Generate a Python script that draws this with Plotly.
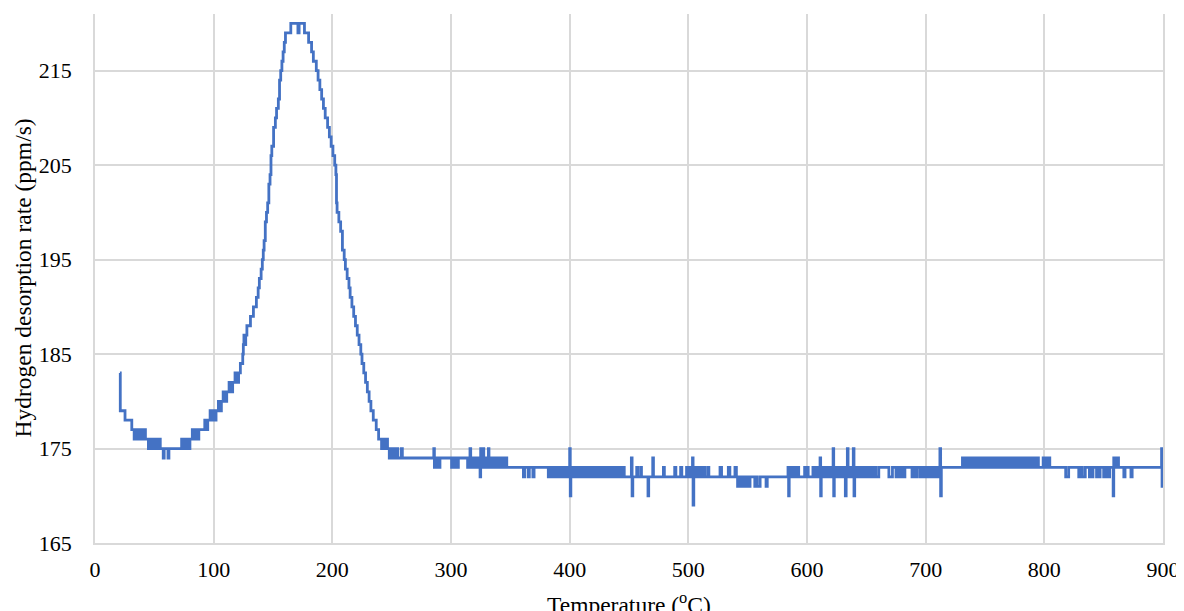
import plotly.graph_objects as go

# (temperature °C, hydrogen desorption rate ppm/s) step points
warmup_steps = [
    (21, 183), (21.3, 179), (25.3, 178), (31, 177), (33, 176), (34, 177), (35, 176), (36.5, 177),
    (37.5, 176), (39, 177), (40, 176), (41.5, 177), (42.5, 176), (45, 175), (46, 176), (47, 175),
    (48, 176), (49.5, 175), (51, 176), (52, 175), (53.5, 176), (55, 175), (57.5, 174), (58.3, 175),
    (61.5, 174), (62.3, 175), (73, 176), (74, 175), (75.5, 176), (76.5, 175), (78, 176), (79, 175),
    (80, 176), (82, 177), (83, 176), (84.5, 177), (86, 176), (87.5, 177), (92.5, 178), (93.5, 177),
    (95, 178), (97, 179), (98, 178), (99.5, 179),
]

peak_steps = [
    (101, 178), (102, 179), (104, 180), (105, 179), (106.5, 180), (108, 181), (109, 180), (111, 181),
    (113, 182), (114, 181), (116, 182), (118, 183), (119, 182), (121, 183), (122.5, 184), (124.5, 185),
    (125, 186), (125.5, 187), (126, 186), (127, 187), (128, 188), (131, 189), (133.5, 190), (136, 191),
    (137.5, 192), (138.5, 193), (140, 194), (141, 195), (141.8, 196), (142.5, 197), (143.5, 199),
    (144.5, 200), (145.5, 201), (146.5, 203), (147.5, 204), (148.3, 206), (149, 207), (150.5, 209),
    (152, 210), (153, 211), (154.5, 212), (155.5, 214), (156.5, 215), (157.5, 216), (158.5, 217),
    (159.5, 218), (160.5, 219), (165, 220), (171, 219), (172, 220), (176.5, 219), (180, 218),
    (182.5, 217), (184, 216), (186.5, 215), (188, 214), (189.5, 213), (191, 212), (192.5, 211),
    (194, 210), (196, 209), (197.5, 208), (199, 207), (200.5, 206), (202, 205), (203, 204),
    (203.5, 201), (204, 200), (205.5, 199), (207, 198), (208.5, 196), (210, 195), (211, 194),
    (212.5, 193), (214, 192), (215, 191), (216.5, 190), (218, 189), (219.5, 188), (221, 187),
    (222.5, 186), (224, 185), (225, 184), (226.5, 183), (228, 182), (229.5, 181), (231, 180),
    (232.5, 179), (234.5, 178), (237, 177), (239, 176), (241.5, 175), (243, 176), (244, 175),
    (245.5, 176), (246.5, 175), (248, 174), (249, 175), (250, 174), (251, 175), (252.5, 174),
    (254, 175), (255, 174), (258, 175), (259, 174),
]

plateau_steps = [
    (285.5, 175), (286, 173), (287, 174), (288, 173), (289, 174), (290, 173), (290.7, 174),
    (300.5, 173), (301.5, 174), (302.5, 173), (303.5, 174), (305, 173), (306.2, 174),
    (314, 173), (315, 174), (316, 175), (316.6, 173), (317.5, 174), (318.5, 173), (319.5, 174),
    (320.5, 173), (321.5, 174), (322.5, 173), (323.5, 174), (324.5, 172), (325, 175), (326, 173),
    (327, 175), (327.6, 174), (328.5, 173), (329.5, 174), (330.5, 173), (331.5, 175), (332, 174),
    (333, 173), (334, 174), (335, 173), (336, 174), (337, 173), (338, 174), (339, 173), (340, 174),
    (341, 173), (342, 174), (343, 173), (344, 174), (345, 173), (346, 174), (347, 173),
    (361, 172), (362, 173), (365, 172), (366, 173), (369, 172), (370, 173),
    (382, 172), (383, 173), (384, 172), (385, 173), (386, 172), (387, 173), (388, 172), (389, 173),
    (390, 172), (391, 173), (392, 172), (393, 173), (394, 172), (395, 173), (396, 172), (397, 173),
    (398, 172), (399, 173), (400, 175), (400.5, 170), (401, 172), (402, 173), (403, 172), (404, 173),
    (405, 172), (406, 173), (407, 172), (408, 173), (409, 172), (410, 173), (411, 172),
]

mid_steps = [
    (412.5, 173), (413.5, 172), (415, 173), (416, 172), (417.5, 173), (418.5, 172), (420, 173),
    (421, 172), (422.5, 173), (423.5, 172), (425, 173), (426, 172), (427.5, 173), (428.5, 172),
    (430, 173), (431, 172), (432.5, 173), (433.5, 172), (435, 173), (436, 172), (437.5, 173),
    (438.5, 172), (440, 173), (441, 172), (442.5, 173), (443.5, 172), (445, 173), (446, 172),
    (452, 174), (452.6, 170), (453.2, 172), (456.5, 173), (457.5, 172), (460, 173), (460.5, 172),
    (466, 170), (466.6, 172), (470, 174), (470.6, 172), (479, 173), (479.8, 172), (488.5, 173),
    (489.5, 172), (493.5, 173), (494.5, 172), (498.5, 173), (499.5, 172), (501, 173), (502, 172),
    (503.5, 174), (504, 169), (504.6, 172), (506, 173), (507, 172), (508.5, 173), (509.5, 172),
    (511, 173), (512, 172), (513, 173), (514, 172), (516.5, 173), (517.3, 172), (526.7, 173),
    (528, 172), (533.7, 173), (535, 172), (539.3, 173), (540.5, 172), (541.5, 171), (542.5, 172),
    (543.5, 171), (545, 172), (546, 171), (547, 172), (548, 171), (549, 172), (550.5, 171),
    (552, 172), (556, 171), (557, 172), (558, 171), (560.5, 172), (565.5, 171), (566.5, 172),
    (584, 173), (584.5, 170), (585, 173), (586, 172), (587, 173), (588, 172), (590, 173),
    (591, 172), (592, 173), (593, 172), (598, 173), (599, 172), (600, 173), (601, 172),
    (605, 173), (606, 172), (607, 173), (608, 172), (609, 173), (610, 172),
]

late_steps = [
    (611, 174), (611.5, 170), (612, 173), (613, 172), (614, 173), (615, 172), (616, 173), (617, 172),
    (618, 173), (619, 172), (620, 173), (621, 172), (622, 175), (622.5, 170), (623, 173), (624, 172),
    (625, 173), (626, 172), (627, 173), (628, 172), (629, 173), (630, 172), (631, 173), (632.3, 170),
    (633, 173), (634, 175), (634.6, 172), (635.5, 173), (636.5, 172), (637.5, 173), (639, 175),
    (639.6, 170), (640.2, 173), (641, 172), (642, 173), (643, 172), (644, 173), (645, 172),
    (646, 173), (647, 172), (648, 173), (649, 172), (650, 173), (651, 172), (652, 173), (653, 172),
    (654, 173), (655, 172), (656, 173), (658, 172), (660.5, 173), (669, 172), (672, 173),
    (675, 172), (676, 173), (677, 172), (678, 173), (679, 172), (680, 173), (681, 172),
    (682.5, 173), (688.5, 172), (689.5, 173), (691, 172), (693, 173), (695.5, 172), (696.5, 173),
    (697.5, 172), (698.5, 173), (699.5, 172), (700.5, 173), (701.5, 172), (702.5, 173),
    (703.5, 172), (704.5, 173), (705.5, 172), (706.5, 173), (707.5, 172), (708.5, 173),
    (709.5, 172), (710.5, 173), (712, 175), (712.6, 170), (713.2, 173),
    (731, 174), (732, 173), (733, 174), (734, 173), (735, 174), (736, 173), (737, 174), (738, 173),
    (739, 174), (740, 173), (741, 174), (742, 173), (743, 174), (744, 173), (745, 174), (746, 173),
    (747, 174), (748, 173), (749, 174), (750, 173), (751, 174), (752, 173), (753, 174), (754, 173),
    (755, 174), (756, 173), (757, 174), (758, 173), (759, 174), (760, 173), (761, 174), (762, 173),
    (763, 174), (764, 173), (765, 174), (766, 173), (767, 174), (768, 173), (769, 174), (770, 173),
    (771, 174), (772, 173), (773, 174), (774, 173), (775, 174), (776, 173), (777, 174), (778, 173),
    (779, 174), (780, 173), (781, 174), (782, 173), (783, 174), (784, 173), (785, 174), (786, 173),
    (787, 174), (788, 173), (789, 174), (790, 173), (791, 174), (792, 173), (793, 174), (795, 173),
    (799, 174), (800, 173), (801, 174), (802, 173), (803, 174), (804.6, 173),
    (818, 172), (820.5, 173), (829, 172), (830.5, 173), (832, 172), (834.5, 173), (838, 172),
    (839, 173), (840, 172), (841, 173), (844, 172), (845, 173), (846, 172), (847, 173),
    (850, 172), (851, 173), (853, 172), (855, 173), (858, 170), (858.5, 174), (859, 173),
    (860, 174), (861, 173), (862, 174), (862.5, 173), (867, 172), (868, 173), (873, 172),
    (874, 173), (898.8, 175), (899.2, 171), (899.6, 175), (900, 173),
]

x_ticks = [0, 100, 200, 300, 400, 500, 600, 700, 800, 900]
y_ticks = [165, 175, 185, 195, 205, 215]
x_title = "Temperature (<sup>o</sup>C)"
y_title = "Hydrogen desorption rate (ppm/s)"

steps = warmup_steps + peak_steps + plateau_steps + mid_steps + late_steps
temperature = [p[0] for p in steps]
rate = [p[1] for p in steps]

FONT = "Liberation Serif, Times New Roman, serif"
GRID = "#D9D9D9"

# page body has an 8px default margin; figure is sized to fill the 1184x611 window exactly
OFF = 8
W, H = 1184 - OFF, 611 - OFF
L, R, T, B = 95 - OFF, 21, 14 - OFF, 68
plot_w, plot_h = W - L - R, H - T - B

fig = go.Figure()
fig.add_trace(go.Scatter(
    x=temperature, y=rate, mode="lines",
    line=dict(color="#4472C4", width=2.8, shape="hv"),
    showlegend=False, hoverinfo="x+y",
))

fig.update_layout(
    width=W, height=H,
    margin=dict(l=L, r=R, t=T, b=B, autoexpand=False),
    paper_bgcolor="white", plot_bgcolor="white",
    font=dict(family=FONT, size=22, color="#000000"),
    showlegend=False,
)
fig.update_xaxes(
    range=[0, 900], tickvals=x_ticks, ticktext=[str(v) for v in x_ticks],
    showgrid=True, gridcolor=GRID, gridwidth=1.5,
    showline=True, linecolor=GRID, linewidth=1.5,
    zeroline=False, ticks="", ticklabelstandoff=6,
    tickfont=dict(family=FONT, size=22, color="#000000"),
)
fig.update_yaxes(
    range=[165, 221], tickvals=y_ticks, ticktext=[str(v) for v in y_ticks],
    showgrid=True, gridcolor=GRID, gridwidth=1.5,
    showline=True, linecolor=GRID, linewidth=1.5, mirror=True,
    zeroline=False, ticks="", ticklabelstandoff=17,
    tickfont=dict(family=FONT, size=22, color="#000000"),
)
# axis titles placed in page pixels (converted to paper coordinates)
fig.add_annotation(
    text=x_title, xref="paper", yref="paper",
    x=0.5, y=-(603 - 543) / plot_h,
    xanchor="center", yanchor="middle", showarrow=False,
    font=dict(family=FONT, size=23.5, color="#000000"),
)
fig.add_annotation(
    text=y_title, xref="paper", yref="paper",
    x=-(95 - 22) / plot_w, y=0.5,
    xanchor="center", yanchor="middle", showarrow=False, textangle=-90,
    font=dict(family=FONT, size=23.5, color="#000000"),
)

fig.write_html("out.html")
